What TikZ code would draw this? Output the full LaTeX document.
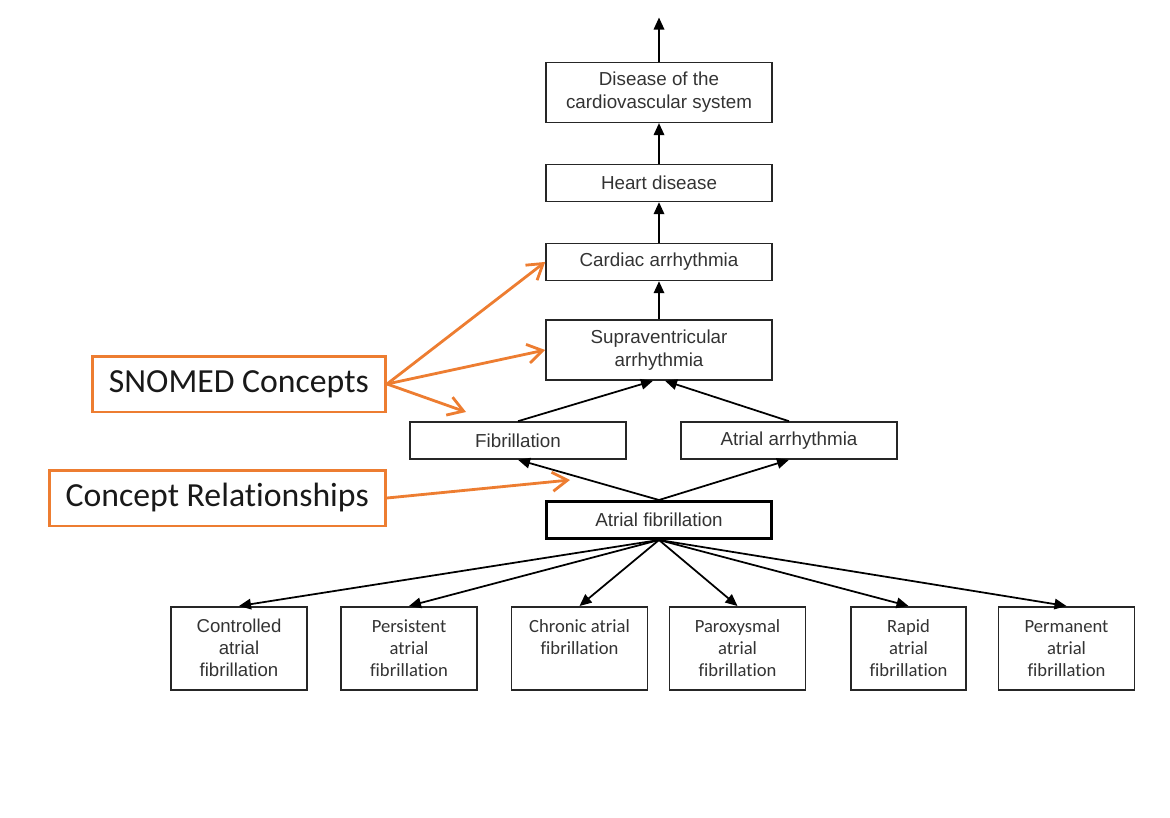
\documentclass[tikz,border=0pt]{standalone}
\usepackage{fontspec}
\setmainfont{Liberation Sans}
\newfontfamily\calibri[Ligatures=NoCommon]{Carlito}
\usetikzlibrary{arrows.meta,positioning}
\definecolor{tagorange}{RGB}{237,125,49}

\begin{document}
\begin{tikzpicture}[
    x=0.02cm, y=-0.02cm,
    node distance=0.81cm,
    box/.style={draw=black!85, line width=0.9pt, minimum width=4.52cm, minimum height=0.74cm, align=center, text=black!80, inner sep=2pt, font=\fontsize{10.7}{13}\selectfont},
    leaf/.style={box, minimum width=2.72cm, minimum height=1.66cm, anchor=north, font=\calibri\fontsize{10.6}{12.5}\selectfont},
    tag/.style={draw=tagorange, line width=1.7pt, minimum height=1.12cm, anchor=east, inner xsep=9.5pt, text=black!90, font=\calibri\fontsize{19.2}{22}\selectfont},
    arr/.style={-{Triangle[length=2.4mm,width=2.1mm]}, line width=1pt},
    oarr/.style={-{Straight Barb[length=3mm,width=3.8mm]}, draw=tagorange, line width=1.6pt}
  ]
    \useasboundingbox (0,0) rectangle (1170,818);

    \node[box, minimum height=1.2cm] (supra) at (659,350) {Supraventricular\\arrhythmia};
    \node[box, above=0.76cm of supra] (cardiac) {Cardiac arrhythmia};
    \node[box, above=of cardiac] (heart) {Heart disease};
    \node[box, minimum height=1.2cm, above=of heart] (disease) {Disease of the\\cardiovascular system};
    \coordinate[above=0.88cm of disease] (up);
    \node[box, minimum width=4.32cm] (fib) at (518,440.5) {Fibrillation};
    \node[box, minimum width=4.32cm] (atarr) at (789,440.5) {Atrial arrhythmia};
    \node[box, draw=black, line width=1.7pt] (afib) at (659,520) {Atrial fibrillation};

    \node[leaf, font=\fontsize{10.6}{12.5}\selectfont] (ctrl) at (239,606) {Controlled\\atrial\\fibrillation};
    \node[leaf] (pers) at (409,606) {Persistent\\atrial\\fibrillation};
    \node[leaf] (chron) at (579.5,606) {Chronic atrial\\fibrillation\\\phantom{fibrillation}};
    \node[leaf] (parox) at (737.5,606) {Paroxysmal\\atrial\\fibrillation};
    \node[leaf, minimum width=2.3cm] (rapid) at (908.5,606) {Rapid\\atrial\\fibrillation};
    \node[leaf] (perm) at (1066.5,606) {Permanent\\atrial\\fibrillation};

    \node[tag] (snomed) at (387,384) {SNOMED Concepts};
    \node[tag] (rel) at (387,498) {Concept Relationships};
    \coordinate (fibtip) at (466,412);
    \coordinate (reltip) at (570,480);

    \draw[arr] (disease) -- (up);
    \draw[arr] (heart) -- (disease);
    \draw[arr] (cardiac) -- (heart);
    \draw[arr] (supra) -- (cardiac);
    \draw[arr] (fib.north) -- ([xshift=-0.12cm]supra.south);
    \draw[arr] (atarr.north) -- ([xshift=0.12cm]supra.south);
    \draw[arr] (afib.north) -- (fib.south);
    \draw[arr] (afib.north) -- (atarr.south);
    \foreach \leafname in {ctrl,pers,chron,parox,rapid,perm}
      \draw[arr] (afib.south) -- (\leafname.north);

    \draw[oarr] (snomed.east) -- (cardiac.west);
    \draw[oarr] (snomed.east) -- (supra.west);
    \draw[oarr] (snomed.east) -- (fibtip);
    \draw[oarr] (rel.east) -- (reltip);
  \end{tikzpicture}
\end{document}
